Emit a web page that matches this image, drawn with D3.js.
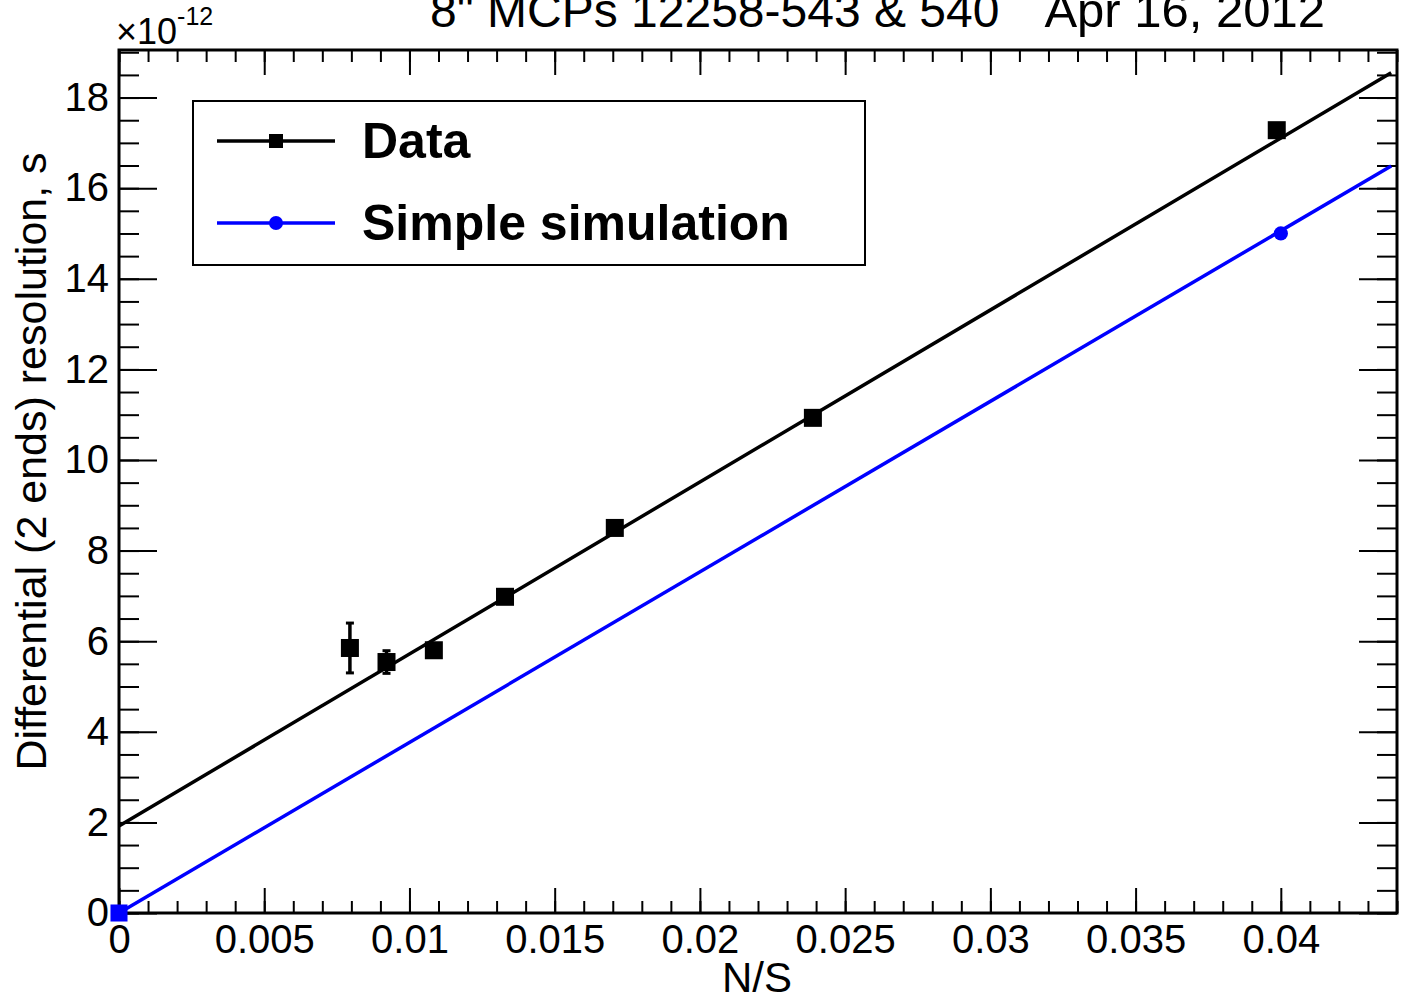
<!DOCTYPE html>
<html>
<head>
<meta charset="utf-8">
<script src="https://cdn.jsdelivr.net/npm/d3@7"></script>
<style>
  body { margin: 0; background: #fff; }
  svg { display: block; font-family: "Liberation Sans", Arial, sans-serif; }
</style>
</head>
<body>
<div id="main"></div>
<script>
// values in units of 1e-12 s
const dataX = [0.00795, 0.00921, 0.01084, 0.01329, 0.01707, 0.02389, 0.03986];
const dataY = [5.85, 5.54, 5.80, 6.98, 8.50, 10.93, 17.28];
const dataErr = [0.55, 0.25, 0.12, 0.12, 0.12, 0.12, 0.12];

const simX = [0, 0.04];
const simY = [0, 15.0];
const simShape = ["square", "circle"];

const fitX = [0, 0.0438];
const dataFitY = [1.92, 18.55];
const simFitY = [0, 16.49];

const xTicks = [0, 0.005, 0.01, 0.015, 0.02, 0.025, 0.03, 0.035, 0.04];
const xTickLabels = ["0", "0.005", "0.01", "0.015", "0.02", "0.025", "0.03", "0.035", "0.04"];
const yTicks = [0, 2, 4, 6, 8, 10, 12, 14, 16, 18];

const legendLabels = ["Data", "Simple simulation"];

const ctx = { w: 1403, h: 1002, left: 119, right: 1397, top: 50, bottom: 913 };

function createViz() {
    const svg = d3.select("#main").append("svg")
        .attr("width", ctx.w)
        .attr("height", ctx.h);

    const x = d3.scaleLinear().domain([0, 0.044]).range([ctx.left, ctx.right]);
    const y = d3.scaleLinear().domain([0, 19.05]).range([ctx.bottom, ctx.top]);

    const W = ctx.right - ctx.left, H = ctx.bottom - ctx.top;
    const xMinor = d3.range(0, 0.0441, 0.001).map(v => +v.toFixed(4));
    const yMinor = d3.range(0, 19.01, 0.5);

    // ---- axes (ticks pointing inwards, ROOT style)
    function styleAxis(g) {
        g.select(".domain").remove();
        g.selectAll("line").attr("stroke", "#000").attr("stroke-width", 2);
        g.selectAll("text").attr("fill", "#000").attr("font-size", 40)
            .attr("font-family", "Liberation Sans, Arial, sans-serif");
    }

    // bottom
    svg.append("g").attr("transform", `translate(0,${ctx.bottom})`)
        .call(d3.axisBottom(x).tickValues(xMinor).tickSize(-12).tickFormat(""))
        .call(styleAxis);
    svg.append("g").attr("transform", `translate(0,${ctx.bottom})`)
        .call(d3.axisBottom(x).tickValues(xTicks).tickSize(-25).tickPadding(12)
            .tickFormat((d, i) => xTickLabels[i]))
        .call(styleAxis)
        .selectAll("text").attr("dy", "0.71em");
    // top
    svg.append("g").attr("transform", `translate(0,${ctx.top})`)
        .call(d3.axisTop(x).tickValues(xMinor).tickSize(-12).tickFormat(""))
        .call(styleAxis);
    svg.append("g").attr("transform", `translate(0,${ctx.top})`)
        .call(d3.axisTop(x).tickValues(xTicks).tickSize(-25).tickFormat(""))
        .call(styleAxis);
    // left
    svg.append("g").attr("transform", `translate(${ctx.left},0)`)
        .call(d3.axisLeft(y).tickValues(yMinor).tickSize(-20).tickFormat(""))
        .call(styleAxis);
    svg.append("g").attr("transform", `translate(${ctx.left},0)`)
        .call(d3.axisLeft(y).tickValues(yTicks).tickSize(-38).tickPadding(10))
        .call(styleAxis);
    // right
    svg.append("g").attr("transform", `translate(${ctx.right},0)`)
        .call(d3.axisRight(y).tickValues(yMinor).tickSize(-20).tickFormat(""))
        .call(styleAxis);
    svg.append("g").attr("transform", `translate(${ctx.right},0)`)
        .call(d3.axisRight(y).tickValues(yTicks).tickSize(-38).tickFormat(""))
        .call(styleAxis);

    // frame
    svg.append("rect")
        .attr("x", ctx.left).attr("y", ctx.top)
        .attr("width", W).attr("height", H)
        .attr("fill", "none").attr("stroke", "#000").attr("stroke-width", 3);

    // ---- fit lines
    const line = d3.line().x(d => x(d[0])).y(d => y(d[1]));
    svg.append("path")
        .datum(fitX.map((v, i) => [v, dataFitY[i]]))
        .attr("d", line).attr("fill", "none")
        .attr("stroke", "#000").attr("stroke-width", 3.5);
    svg.append("path")
        .datum(fitX.map((v, i) => [v, simFitY[i]]))
        .attr("d", line).attr("fill", "none")
        .attr("stroke", "#0000ff").attr("stroke-width", 3.5);

    // ---- data points with error bars
    const pts = dataX.map((v, i) => ({ x: v, y: dataY[i], e: dataErr[i] }));
    const pg = svg.append("g");
    pg.selectAll(".eb").data(pts).enter().append("line")
        .attr("x1", d => x(d.x)).attr("x2", d => x(d.x))
        .attr("y1", d => y(d.y + d.e)).attr("y2", d => y(d.y - d.e))
        .attr("stroke", "#000").attr("stroke-width", 3.5);
    ["+", "-"].forEach(s => {
        pg.selectAll(".cap" + (s === "+" ? "t" : "b")).data(pts).enter().append("line")
            .attr("x1", d => x(d.x) - 4).attr("x2", d => x(d.x) + 4)
            .attr("y1", d => y(s === "+" ? d.y + d.e : d.y - d.e))
            .attr("y2", d => y(s === "+" ? d.y + d.e : d.y - d.e))
            .attr("stroke", "#000").attr("stroke-width", 3);
    });
    pg.selectAll("rect").data(pts).enter().append("rect")
        .attr("x", d => x(d.x) - 9).attr("y", d => y(d.y) - 9)
        .attr("width", 18).attr("height", 18).attr("fill", "#000");

    // ---- simulation points
    const sym = d3.symbol();
    svg.append("g").selectAll("path")
        .data(simX.map((v, i) => ({ x: v, y: simY[i], s: simShape[i] })))
        .enter().append("path")
        .attr("transform", d => `translate(${x(d.x)},${y(d.y)})`)
        .attr("d", d => sym.type(d.s === "square" ? d3.symbolSquare : d3.symbolCircle)
            .size(d.s === "square" ? 290 : 160)())
        .attr("fill", "#0000ff");

    // ---- legend
    const lg = svg.append("g");
    lg.append("rect")
        .attr("x", 193).attr("y", 101).attr("width", 672).attr("height", 164)
        .attr("fill", "#fff").attr("stroke", "#000").attr("stroke-width", 2);
    const legendColors = ["#000", "#0000ff"];
    legendLabels.forEach((lab, i) => {
        const ly = 141 + i * 82;
        lg.append("line").attr("x1", 217).attr("x2", 335).attr("y1", ly).attr("y2", ly)
            .attr("stroke", legendColors[i]).attr("stroke-width", 3.5);
        if (i === 0) {
            lg.append("rect").attr("x", 269).attr("y", ly - 7).attr("width", 14).attr("height", 14)
                .attr("fill", "#000");
        } else {
            lg.append("circle").attr("cx", 276).attr("cy", ly).attr("r", 7).attr("fill", "#0000ff");
        }
        lg.append("text").attr("x", 362).attr("y", ly + 17)
            .attr("font-size", 50).attr("font-weight", "bold").attr("fill", "#000")
            .text(lab);
    });

    // ---- titles (top of the title is cut by the page edge, as in the original)
    svg.append("text").attr("x", 430).attr("y", 27)
        .attr("font-size", 48).text("8\" MCPs 12258-543 & 540");
    svg.append("text").attr("x", 1325).attr("y", 27).attr("text-anchor", "end")
        .attr("font-size", 49).text("Apr 16, 2012");

    const exp = svg.append("text").attr("x", 116).attr("y", 44).attr("font-size", 36);
    exp.append("tspan").text("\u00d710");
    exp.append("tspan").attr("font-size", 25).attr("dy", -19).text("-12");

    svg.append("text").attr("x", 757).attr("y", 992).attr("text-anchor", "middle")
        .attr("font-size", 42).text("N/S");

    svg.append("text")
        .attr("transform", `translate(46,${(ctx.top + ctx.bottom) / 2 - 20}) rotate(-90)`)
        .attr("text-anchor", "middle").attr("font-size", 43)
        .text("Differential (2 ends) resolution, s");
}

createViz();
</script>
</body>
</html>
